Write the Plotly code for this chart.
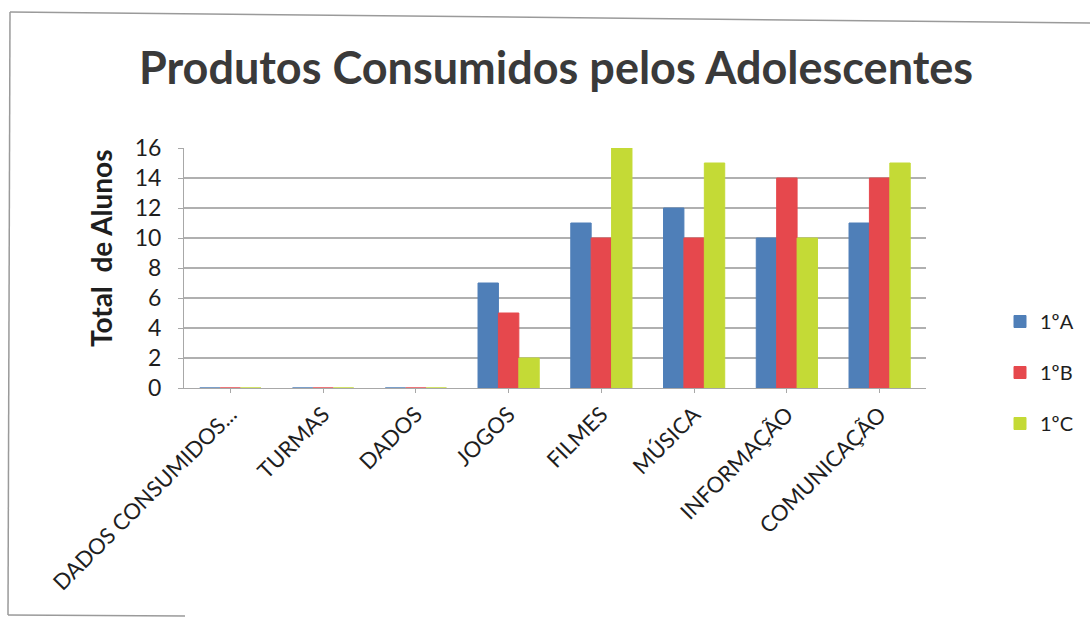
import plotly.graph_objects as go

categories = ["DADOS CONSUMIDOS...", "TURMAS", "DADOS", "JOGOS", "FILMES",
              "MÚSICA", "INFORMAÇÃO", "COMUNICAÇÃO"]
serie_1A = [0, 0, 0, 7, 11, 12, 10, 11]
serie_1B = [0, 0, 0, 5, 10, 10, 14, 14]
serie_1C = [0, 0, 0, 2, 16, 15, 10, 15]
series_names = ["1ºA", "1ºB", "1ºC"]
colors = ["#4F7FB8", "#E6484D", "#C4DA36"]
y_ticks = [0, 2, 4, 6, 8, 10, 12, 14, 16]

fig = go.Figure()
for name, vals, col in zip(series_names, [serie_1A, serie_1B, serie_1C], colors):
    fig.add_trace(go.Bar(
        x=categories, y=vals, name=name, legendgroup=name,
        marker=dict(color=col, line=dict(color=col, width=1)),
    ))

W, H = 1090, 623
L, R, T, B = 184, 164, 148, 235

def px_x(px):
    return (px - L) / (W - L - R)

def px_y(py):
    return (H - B - py) / (H - T - B)

frame = "#9a9a9a"
fig.update_layout(
    width=W, height=H,
    margin=dict(l=L, r=R, t=T, b=B, autoexpand=False),
    paper_bgcolor="white", plot_bgcolor="white",
    barmode="group", bargap=0.34, bargroupgap=0,
    font=dict(family="Lato, Open Sans, sans-serif", color="#222222"),
    title=dict(text="<b>Produtos Consumidos pelos Adolescentes</b>",
               x=556 / W, xanchor="center", y=1 - 68 / H, yanchor="middle",
               font=dict(size=45, color="#3a3a3a", family="Lato, Open Sans, sans-serif")),
    xaxis=dict(tickangle=-45, tickfont=dict(size=22, color="#1e1e1e"),
               showgrid=False, showline=True, linecolor="#a8a8a8",
               ticks="outside", ticklen=4, tickcolor="#a8a8a8", automargin=False),
    yaxis=dict(range=[0, 16], tickvals=y_ticks, tickfont=dict(size=23, color="#1e1e1e"),
               showgrid=True, gridcolor="#b0b0b0", gridwidth=1.5,
               showline=True, linecolor="#a8a8a8", zeroline=False,
               ticks="outside", ticklen=5, tickcolor="#a8a8a8",
               ticklabelstandoff=12, automargin=False),
    legend=dict(x=px_x(1000), y=px_y(302), xanchor="left", yanchor="top",
                font=dict(size=20, color="#1e1e1e"), tracegroupgap=22,
                itemwidth=30, bgcolor="rgba(0,0,0,0)"),
    annotations=[dict(text="<b>Total  de Alunos</b>", textangle=-90,
                      xref="paper", yref="paper", x=px_x(101), y=px_y(249),
                      xanchor="center", yanchor="middle", showarrow=False,
                      font=dict(size=28, color="#1e1e1e"))],
    shapes=[
        dict(type="line", xref="paper", yref="paper",
             x0=px_x(10), y0=px_y(12), x1=px_x(1090), y1=px_y(23),
             line=dict(color=frame, width=1.5)),
        dict(type="line", xref="paper", yref="paper",
             x0=px_x(10), y0=px_y(12), x1=px_x(8), y1=px_y(615),
             line=dict(color=frame, width=1.5)),
        dict(type="line", xref="paper", yref="paper",
             x0=px_x(8), y0=px_y(615), x1=px_x(185), y1=px_y(616),
             line=dict(color=frame, width=1.5)),
    ],
)

fig.write_html("out.html", config={"displayModeBar": False},
               post_script="document.body.style.margin='0';")
